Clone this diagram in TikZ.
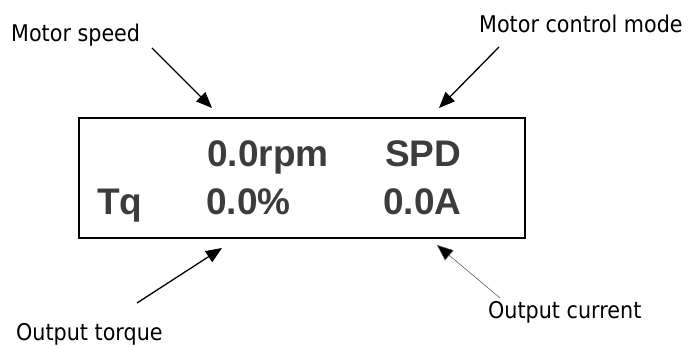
\documentclass[tikz,border=0pt]{standalone}
\usepackage{fontspec}
\setmainfont{Liberation Sans}
\newfontfamily\labfont[FakeStretch=0.9]{DejaVu Sans}
\usetikzlibrary{arrows.meta}
\definecolor{lcd}{HTML}{3C3C3C}
\tikzset{
  lab/.style={inner sep=0pt, anchor=base west, font=\labfont\fontsize{23}{26}\selectfont},
  lcdtxt/.style={inner sep=0pt, anchor=base west, text=lcd, font=\bfseries\fontsize{37}{40}\selectfont},
  pointer/.style={line width=1.3pt, -{Triangle[length=16pt,width=13pt]}},
  thinpointer/.style={line width=0.5pt, draw=black!70, -{Triangle[length=16pt,width=13pt,fill=black]}},
  panel/.style={draw, line width=1.5pt}
}
\begin{document}
\begin{tikzpicture}[x=1pt,y=-1pt]
\useasboundingbox (0,0) rectangle (689,347);
\draw[panel] (79,118) rectangle (525,238);
\node[lcdtxt] (rpm) at (207,167) {0.0rpm};
\node[lcdtxt] (spd) at (385,167) {SPD};
\node[lcdtxt] (tq) at (97,215) {Tq};
\node[lcdtxt] (pct) at (206,215) {0.0\%};
\node[lcdtxt] (amp) at (383,215) {0.0A};
\node[lab] (ms) at (11,42) {Motor speed};
\node[lab] (mcm) at (479,33) {Motor control mode};
\node[lab] (ot) at (16,341) {Output torque};
\node[lab] (oc) at (488,319) {Output current};
\coordinate (msA) at (152,48);
\coordinate (msB) at (212,108);
\coordinate (mcmA) at (499,47);
\coordinate (mcmB) at (439,108);
\coordinate (otA) at (137,303);
\coordinate (otB) at (222,248);
\coordinate (ocA) at (500,298);
\coordinate (ocB) at (437,245);
\draw[pointer] (msA) -- (msB);
\draw[pointer] (mcmA) -- (mcmB);
\draw[pointer] (otA) -- (otB);
\draw[thinpointer] (ocA) -- (ocB);
\end{tikzpicture}
\end{document}
